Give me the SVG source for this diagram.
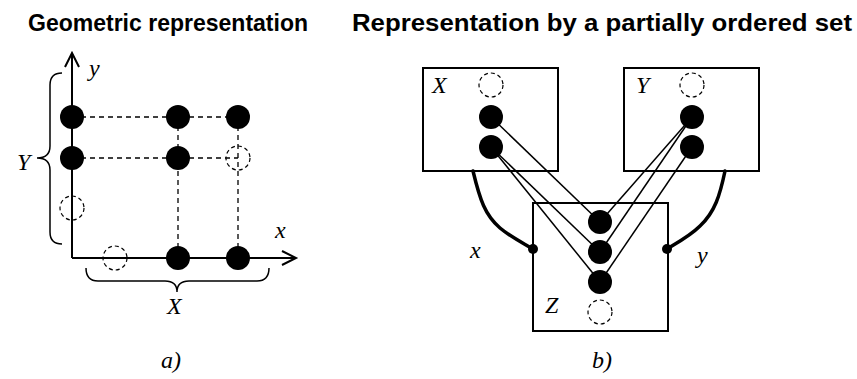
<svg xmlns="http://www.w3.org/2000/svg" width="857" height="379" viewBox="0 0 857 379">
<style>
.title{font-family:"Liberation Sans",Arial,sans-serif;font-weight:bold;font-size:24px;fill:#000}
.lbl{font-family:"Liberation Serif","Times New Roman",serif;font-style:italic;font-size:24px;fill:#000}
.dot{fill:#000}
.hole{fill:none;stroke:#000;stroke-width:1.2;stroke-dasharray:4 3}
.grid{fill:none;stroke:#000;stroke-width:1.3;stroke-dasharray:5 4}
.axis{fill:none;stroke:#000;stroke-width:2}
.brace{fill:none;stroke:#000;stroke-width:1.5}
.box{fill:#fff;stroke:#000;stroke-width:2}
.edge{fill:none;stroke:#000;stroke-width:1.5}
.thick{fill:none;stroke:#000;stroke-width:3.5;stroke-linecap:round}
</style>
<rect width="857" height="379" fill="#fff"/>
<text class="title" x="28" y="31" textLength="280" lengthAdjust="spacingAndGlyphs">Geometric representation</text>
<text class="title" x="352" y="31" textLength="500" lengthAdjust="spacingAndGlyphs">Representation by a partially ordered set</text>

<g id="panel-a">
  <g id="grid-lines">
    <line class="grid" x1="72" y1="117" x2="238" y2="117"/>
    <line class="grid" x1="72" y1="158" x2="238" y2="158"/>
    <line class="grid" x1="178" y1="117" x2="178" y2="258"/>
    <line class="grid" x1="238" y1="117" x2="238" y2="258"/>
  </g>
  <g id="axes">
    <path class="axis" d="M72,258 V53 M65,67 L72,53 L79,67"/>
    <path class="axis" d="M72,258 H296 M282,251 L296,258 L282,265"/>
  </g>
  <text class="lbl" x="89" y="76">y</text>
  <text class="lbl" x="275" y="238">x</text>
  <path id="brace-Y" class="brace" d="M62,73 Q50,73 50,85 V146 Q50,158 37,158 Q50,158 50,170 V232 Q50,244 62,244"/>
  <text class="lbl" x="17" y="170">Y</text>
  <path id="brace-X" class="brace" d="M86,268 Q86,281 98,281 H165 Q177,281 177,292 Q177,281 189,281 H257 Q269,281 269,268"/>
  <text class="lbl" x="167" y="314">X</text>
  <g id="points-a">
    <circle class="dot" cx="72" cy="117" r="12"/>
    <circle class="dot" cx="178" cy="117" r="12"/>
    <circle class="dot" cx="238" cy="117" r="12"/>
    <circle class="dot" cx="72" cy="158" r="12"/>
    <circle class="dot" cx="178" cy="158" r="12"/>
    <circle class="hole" cx="238" cy="158" r="12"/>
    <circle class="hole" cx="72" cy="208" r="12"/>
    <circle class="hole" cx="115" cy="258" r="12"/>
    <circle class="dot" cx="178" cy="258" r="12"/>
    <circle class="dot" cx="238" cy="258" r="12"/>
  </g>
  <text class="lbl" x="161" y="368">a)</text>
</g>

<g id="panel-b">
  <g id="node-X">
    <rect class="box" x="423" y="68" width="135" height="103"/>
    <text class="lbl" x="432" y="93">X</text>
    <circle class="hole" cx="491" cy="85" r="12"/>
    <circle class="dot" cx="491" cy="117" r="12"/>
    <circle class="dot" cx="491" cy="147" r="12"/>
  </g>
  <g id="node-Y">
    <rect class="box" x="624" y="68" width="135" height="103"/>
    <text class="lbl" x="636" y="93">Y</text>
    <circle class="hole" cx="692" cy="85" r="12"/>
    <circle class="dot" cx="692" cy="117" r="12"/>
    <circle class="dot" cx="692" cy="147" r="12"/>
  </g>
  <g id="connectors">
    <path class="thick" d="M473,171 C480,200 485,215 500,228 C512,238 525,244 533,249"/>
    <path class="thick" d="M725,171 C720,195 715,212 700,226 C690,236 675,244 667,249"/>
  </g>
  <g id="node-Z">
    <rect class="box" x="533" y="203" width="135" height="128"/>
    <text class="lbl" x="545" y="313">Z</text>
    <circle class="hole" cx="600" cy="312" r="12"/>
  </g>
  <g id="relations">
    <line class="edge" x1="491" y1="117" x2="600" y2="222"/>
    <line class="edge" x1="491" y1="147" x2="600" y2="252"/>
    <line class="edge" x1="491" y1="147" x2="600" y2="282"/>
    <line class="edge" x1="692" y1="117" x2="600" y2="222"/>
    <line class="edge" x1="692" y1="117" x2="600" y2="252"/>
    <line class="edge" x1="692" y1="147" x2="600" y2="282"/>
  </g>
  <g id="points-b">
    <circle class="dot" cx="600" cy="222" r="12"/>
    <circle class="dot" cx="600" cy="252" r="12"/>
    <circle class="dot" cx="600" cy="282" r="12"/>
    <circle class="dot" cx="533" cy="249" r="5"/>
    <circle class="dot" cx="667" cy="249" r="5"/>
  </g>
  <text class="lbl" x="470" y="258">x</text>
  <text class="lbl" x="697" y="263">y</text>
  <text class="lbl" x="592" y="368">b)</text>
</g>
</svg>
